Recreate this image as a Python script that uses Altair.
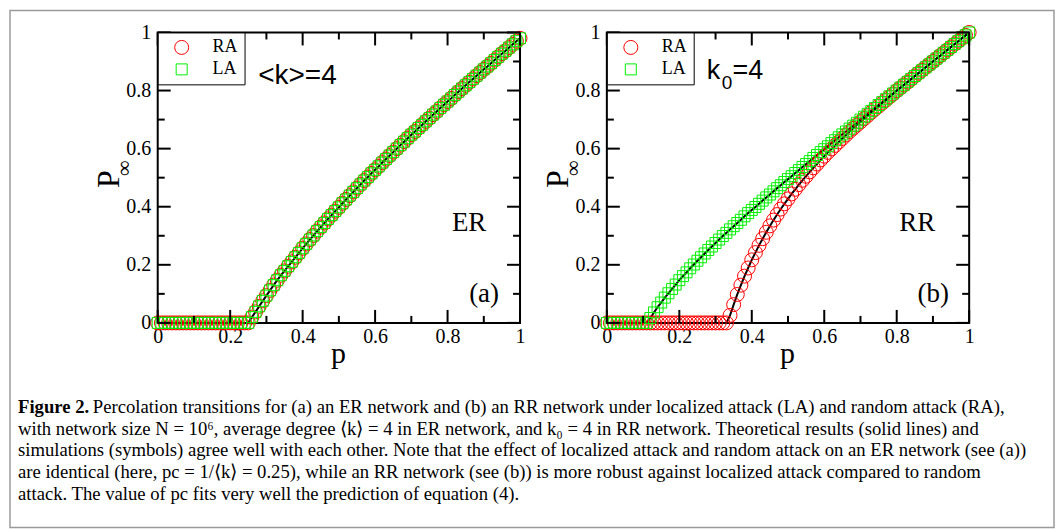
import altair as alt
import pandas as pd

# ---------------- data ----------------
P_GRID = [0.00, 0.01, 0.02, 0.03, 0.04, 0.05, 0.06, 0.07, 0.08, 0.09,
          0.10, 0.11, 0.12, 0.13, 0.14, 0.15, 0.16, 0.17, 0.18, 0.19,
          0.20, 0.21, 0.22, 0.23, 0.24, 0.25, 0.26, 0.27, 0.28, 0.29,
          0.30, 0.31, 0.32, 0.33, 0.34, 0.35, 0.36, 0.37, 0.38, 0.39,
          0.40, 0.41, 0.42, 0.43, 0.44, 0.45, 0.46, 0.47, 0.48, 0.49,
          0.50, 0.51, 0.52, 0.53, 0.54, 0.55, 0.56, 0.57, 0.58, 0.59,
          0.60, 0.61, 0.62, 0.63, 0.64, 0.65, 0.66, 0.67, 0.68, 0.69,
          0.70, 0.71, 0.72, 0.73, 0.74, 0.75, 0.76, 0.77, 0.78, 0.79,
          0.80, 0.81, 0.82, 0.83, 0.84, 0.85, 0.86, 0.87, 0.88, 0.89,
          0.90, 0.91, 0.92, 0.93, 0.94, 0.95, 0.96, 0.97, 0.98, 0.99,
          1.00]

# (a) ER network, <k>=4 : RA and LA coincide
ER_RA = [0.0] * 26 + [
    0.020, 0.038, 0.057, 0.076, 0.094, 0.112, 0.130, 0.147, 0.164, 0.179,
    0.195, 0.210, 0.226, 0.241, 0.257, 0.272, 0.287, 0.301, 0.316, 0.330,
    0.344, 0.358, 0.371, 0.385, 0.398, 0.412, 0.425, 0.438, 0.451, 0.464,
    0.477, 0.490, 0.502, 0.515, 0.527, 0.539, 0.552, 0.564, 0.576, 0.588,
    0.600, 0.612, 0.624, 0.636, 0.648, 0.659, 0.671, 0.682, 0.694, 0.705,
    0.717, 0.728, 0.740, 0.751, 0.762, 0.773, 0.785, 0.796, 0.807, 0.818,
    0.829, 0.840, 0.851, 0.862, 0.873, 0.883, 0.894, 0.905, 0.916, 0.927,
    0.937, 0.948, 0.959, 0.970, 0.980]
ER_LA = [0.0] * 26 + [
    0.020, 0.038, 0.057, 0.076, 0.094, 0.112, 0.130, 0.147, 0.164, 0.179,
    0.195, 0.210, 0.226, 0.241, 0.257, 0.272, 0.287, 0.301, 0.316, 0.330,
    0.344, 0.358, 0.371, 0.385, 0.398, 0.412, 0.425, 0.438, 0.451, 0.464,
    0.477, 0.490, 0.502, 0.515, 0.527, 0.539, 0.552, 0.564, 0.576, 0.588,
    0.600, 0.612, 0.624, 0.636, 0.648, 0.659, 0.671, 0.682, 0.694, 0.705,
    0.717, 0.728, 0.740, 0.751, 0.762, 0.773, 0.785, 0.796, 0.807, 0.818,
    0.829, 0.840, 0.851, 0.862, 0.873, 0.883, 0.894, 0.905, 0.916, 0.927,
    0.937, 0.948, 0.959, 0.970, 0.980]

# (b) RR network, k0=4
RR_RA = [0.0] * 34 + [
    0.026, 0.063, 0.098, 0.130, 0.161, 0.189, 0.217, 0.242, 0.267, 0.290,
    0.312, 0.334, 0.354, 0.373, 0.392, 0.410, 0.427, 0.444, 0.460, 0.476,
    0.491, 0.505, 0.520, 0.534, 0.547, 0.561, 0.574, 0.587, 0.599, 0.611,
    0.623, 0.635, 0.647, 0.659, 0.670, 0.681, 0.692, 0.703, 0.714, 0.725,
    0.736, 0.746, 0.757, 0.767, 0.778, 0.788, 0.799, 0.809, 0.819, 0.829,
    0.839, 0.850, 0.860, 0.870, 0.880, 0.890, 0.900, 0.910, 0.920, 0.930,
    0.940, 0.950, 0.960, 0.970, 0.980, 0.990, 1.000]
RR_LA = [0.0] * 12 + [
    0.017, 0.036, 0.054, 0.070, 0.087, 0.102, 0.117, 0.132,
    0.147, 0.161, 0.174, 0.188, 0.201, 0.214, 0.226, 0.239, 0.251, 0.263,
    0.275, 0.287, 0.299, 0.310, 0.322, 0.333, 0.344, 0.355, 0.367, 0.378,
    0.389, 0.399, 0.410, 0.421, 0.432, 0.442, 0.453, 0.464, 0.474, 0.485,
    0.495, 0.505, 0.516, 0.526, 0.537, 0.547, 0.557, 0.568, 0.578, 0.588,
    0.598, 0.608, 0.619, 0.629, 0.639, 0.649, 0.659, 0.669, 0.679, 0.689,
    0.700, 0.710, 0.720, 0.730, 0.740, 0.750, 0.760, 0.770, 0.780, 0.790,
    0.800, 0.810, 0.820, 0.830, 0.840, 0.850, 0.860, 0.870, 0.880, 0.890,
    0.900, 0.910, 0.920, 0.930, 0.940, 0.950, 0.960, 0.970, 0.980, 0.990, 1.000]

SERIES = ["RA", "LA"]
MAJOR_TICKS = [0, 0.2, 0.4, 0.6, 0.8, 1.0]
MINOR_TICKS = [0.1, 0.3, 0.5, 0.7, 0.9]

CAPTION_BOLD = "Figure 2."
CAPTION_LINES = [
    "Percolation transitions for (a) an ER network and (b) an RR network under localized attack (LA) and random attack (RA),",
    "with network size N = 10\u2076, average degree \u27e8k\u27e9 = 4 in ER network, and k\u2080 = 4 in RR network. Theoretical results (solid lines) and",
    "simulations (symbols) agree well with each other. Note that the effect of localized attack and random attack on an ER network (see (a))",
    "are identical (here, pc = 1/\u27e8k\u27e9 = 0.25), while an RR network (see (b)) is more robust against localized attack compared to random",
    "attack. The value of pc fits very well the prediction of equation (4).",
]

# ---------------- styling ----------------
W, H = 363, 291
SERIF = "Liberation Serif"
SANS = "Liberation Sans"
XS = alt.Scale(domain=[0, 1], nice=False, zero=False)
YS = alt.Scale(domain=[0, 1], nice=False, zero=False)

XAXIS = alt.Axis(values=MAJOR_TICKS, format="~g", title=None, tickSize=0, domain=False,
                 grid=False, labelFont=SERIF, labelFontSize=20, labelPadding=4,
                 labelColor="black", labelFlush=False, labelOverlap=False)
YAXIS = alt.Axis(values=MAJOR_TICKS, format="~g", title=None, tickSize=0, domain=False,
                 grid=False, labelFont=SERIF, labelFontSize=20, labelPadding=7,
                 labelColor="black", labelFlush=False, labelOverlap=False)

LEGEND = alt.Legend(title=None, orient="top-left", offset=0, padding=6,
                    strokeColor="black", fillColor="white", labelFont=SERIF,
                    labelFontSize=18, labelColor="black", symbolStrokeWidth=1,
                    symbolOffset=9, labelOffset=22, rowPadding=4, symbolSize=150)


def txt(s, x, y, size, font=SERIF, angle=0, align="center", weight="normal",
        color="black", baseline="alphabetic"):
    return alt.Chart(pd.DataFrame({"t": [s]})).mark_text(
        font=font, fontSize=size, angle=angle, align=align, baseline=baseline,
        fontWeight=weight, color=color
    ).encode(x=alt.value(x), y=alt.value(y), text="t:N")


def tick_layers():
    layers = []
    for vals, L in [(MAJOR_TICKS, 13), (MINOR_TICKS, 7)]:
        c = alt.Chart(pd.DataFrame({"v": vals})).mark_rule(color="black", strokeWidth=2)
        layers.append(c.encode(x=alt.X("v:Q", scale=XS, axis=XAXIS), y=alt.value(H), y2=alt.value(H - L)))
        layers.append(c.encode(x=alt.X("v:Q", scale=XS, axis=XAXIS), y=alt.value(0), y2=alt.value(L)))
        layers.append(c.encode(y=alt.Y("v:Q", scale=YS, axis=YAXIS), x=alt.value(0), x2=alt.value(L)))
        layers.append(c.encode(y=alt.Y("v:Q", scale=YS, axis=YAXIS), x=alt.value(W), x2=alt.value(W - L)))
    return layers


def panel(ra, la, curves, annotations):
    n = len(P_GRID)
    df = pd.DataFrame({"p": P_GRID + P_GRID, "P": ra + la,
                       "attack": [SERIES[0]] * n + [SERIES[1]] * n})
    th_p, th_v, th_c = [], [], []
    for i, cv in enumerate(curves):
        th_p += P_GRID
        th_v += cv
        th_c += [i] * n
    th = pd.DataFrame({"p": th_p, "P": th_v, "curve": th_c})
    line = alt.Chart(th).mark_line(color="black", strokeWidth=2).encode(
        x=alt.X("p:Q", scale=XS, axis=XAXIS),
        y=alt.Y("P:Q", scale=YS, axis=YAXIS),
        detail="curve:N")
    pts = alt.Chart(df).mark_point(filled=False, strokeWidth=1, opacity=1).encode(
        x=alt.X("p:Q", scale=XS, axis=XAXIS),
        y=alt.Y("P:Q", scale=YS, axis=YAXIS),
        color=alt.Color("attack:N", scale=alt.Scale(domain=SERIES, range=["#ff0000", "#00f000"]), legend=LEGEND),
        shape=alt.Shape("attack:N", scale=alt.Scale(domain=SERIES, range=["circle", "square"]), legend=LEGEND),
        size=alt.Size("attack:N", scale=alt.Scale(domain=SERIES, range=[196, 121]), legend=None),
    )
    common = [
        txt("P", -39, 147, 32, angle=270),
        txt("\u221e", -27, 136, 22, angle=270),
        txt("p", 181, 331, 30),
    ]
    return alt.layer(line, pts, *tick_layers(), *common, *annotations).properties(width=W, height=H)


# outer frame of the figure
frame = alt.Chart(pd.DataFrame({"a": [0]})).mark_rect(
    fillOpacity=0, stroke="#9a9a9a", strokeWidth=1.5
).encode(x=alt.value(-148), x2=alt.value(898), y=alt.value(-22), y2=alt.value(496))

CAP_SIZE = 18.7
caption = [txt(CAPTION_BOLD, -140, 381, CAP_SIZE, align="left", weight="bold")]
caption.append(txt(CAPTION_LINES[0], -65, 381, CAP_SIZE, align="left"))
for i, line in enumerate(CAPTION_LINES[1:]):
    caption.append(txt(line, -140, 403 + 21.7 * i, CAP_SIZE, align="left"))

ann_a = [
    txt("<k>=4", 140, 52, 28, font=SANS),
    txt("ER", 312, 199, 27),
    txt("(a)", 327, 270, 27),
    frame,
    *caption,
]
ann_b = [
    txt("k", 100, 47, 27, font=SANS, align="left"),
    txt("0", 115, 57, 19, font=SANS, align="left"),
    txt("=4", 126, 47, 27, font=SANS, align="left"),
    txt("RR", 311, 199, 27),
    txt("(b)", 327, 270, 27),
]

pa = panel(ER_RA, ER_LA, [ER_RA], ann_a)
pb = panel(RR_RA, RR_LA, [RR_RA, RR_LA], ann_b)

chart = alt.hconcat(pa, pb, spacing=87, bounds="flush").resolve_scale(
    color="independent", shape="independent", size="independent"
).properties(
    padding=0,
).configure(background="white").configure_view(stroke="black", strokeWidth=2)

chart.save("out.html", embed_options={"renderer": "svg", "actions": False})
